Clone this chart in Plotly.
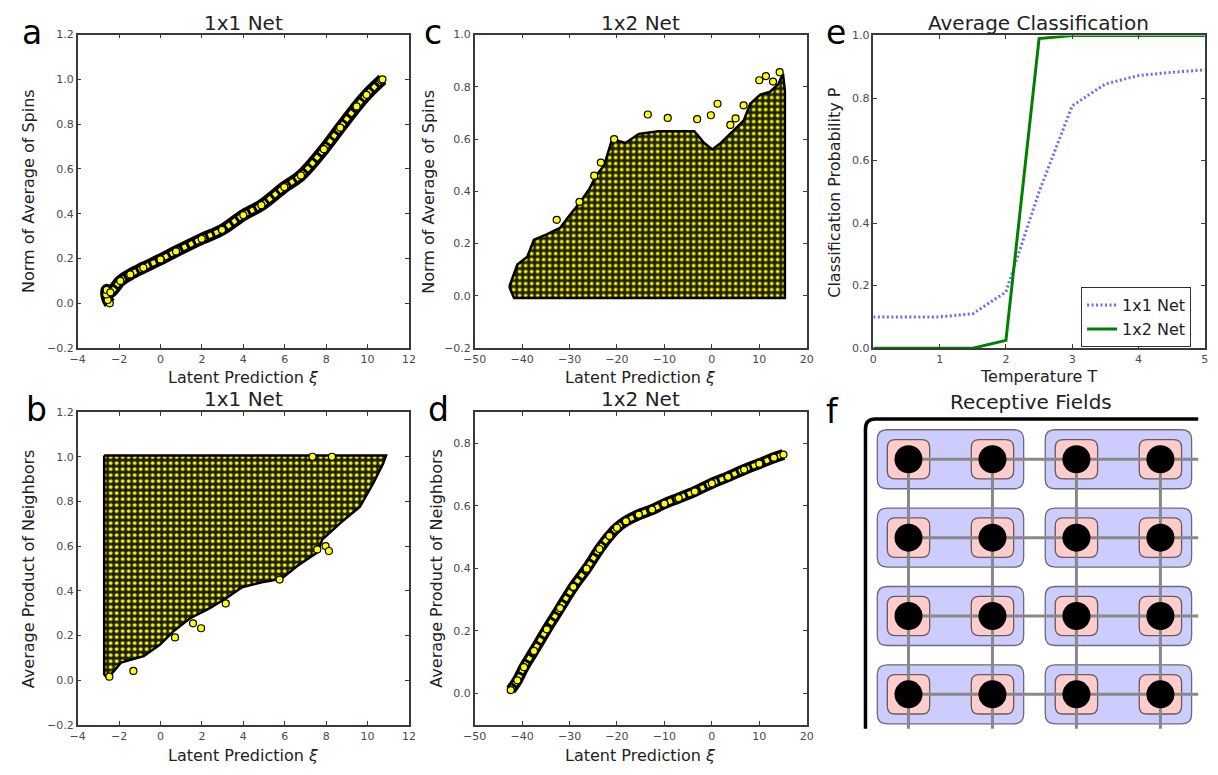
import plotly.graph_objects as go

W, H = 1218, 775
FONT = "DejaVu Sans"

# ---------------- data ----------------
# (a) 1x1 net: latent prediction vs norm of average spin (narrow band)
a_xi = [-2.45, -2.55, -2.62, -2.60, -2.42, -1.94, -1.46, -0.83, 0.00, 0.75, 1.99, 2.97,
        4.00, 4.87, 5.98, 6.78, 7.89, 8.68, 9.47, 9.95, 10.66, 10.72]
a_m = [0.000, 0.015, 0.040, 0.060, 0.049, 0.100, 0.129, 0.159, 0.196, 0.232, 0.288, 0.328,
       0.394, 0.438, 0.519, 0.571, 0.688, 0.784, 0.879, 0.931, 0.995, 1.000]

# (b) 1x1 net: latent prediction vs average neighbour product (cloud outline + stragglers)
b_edge_xi = [-2.72, -2.72, -2.55, -1.91, -0.81, -0.02, 0.62, 1.41, 2.36, 3.15, 3.94, 4.89,
             5.83, 6.62, 7.57, 7.81, 8.68, 9.63, 10.26, 10.74, 10.89, -2.72]
b_edge_nb = [1.005, 0.026, 0.007, 0.078, 0.107, 0.159, 0.218, 0.276, 0.321, 0.365, 0.416, 0.438,
             0.453, 0.512, 0.571, 0.629, 0.703, 0.776, 0.879, 0.968, 1.005, 1.005]
b_out_xi = [-2.47, -1.31, 0.70, 1.57, 1.96, 3.15, 5.75, 7.57, 7.97, 8.13, 7.34, 8.28]
b_out_nb = [0.015, 0.041, 0.191, 0.254, 0.232, 0.343, 0.450, 0.585, 0.600, 0.578, 1.000, 1.000]

# (c) 1x2 net: latent prediction vs norm of average spin
c_edge_xi = [-42.7, -41.0, -38.9, -37.5, -34.8, -32.0, -29.9, -27.9, -25.8, -24.4, -22.7, -21.0,
             -18.2, -15.4, -11.3, -7.8, -3.7, -1.6, 0.1, 1.9, 3.9, 6.7, 8.1, 10.2, 12.2, 14.0,
             15.0, 15.4, 15.4, -41.7, -42.7]
c_edge_m = [0.035, 0.120, 0.150, 0.215, 0.235, 0.260, 0.310, 0.355, 0.410, 0.460, 0.500, 0.600,
            0.585, 0.620, 0.630, 0.630, 0.630, 0.585, 0.560, 0.585, 0.620, 0.670, 0.735, 0.770,
            0.780, 0.810, 0.850, 0.785, -0.008, -0.008, 0.035]
c_out_xi = [-32.7, -27.9, -24.8, -23.4, -20.6, -13.5, -9.3, -3.1, -0.2, 1.2, 3.9, 5.0, 6.7,
            10.0, 11.4, 12.9, 14.3]
c_out_m = [0.291, 0.360, 0.460, 0.510, 0.600, 0.694, 0.681, 0.676, 0.691, 0.735, 0.654, 0.679,
           0.729, 0.825, 0.841, 0.820, 0.856]

# (d) 1x2 net: latent prediction vs average neighbour product
d_xi = [-42.4, -41.0, -39.6, -37.5, -34.8, -32.0, -29.2, -26.4, -23.7, -21.6, -20.0, -18.1,
        -15.4, -12.6, -10.0, -7.0, -3.6, 0.0, 3.4, 6.8, 10.0, 13.1, 15.1]
d_nb = [0.011, 0.042, 0.084, 0.136, 0.205, 0.273, 0.341, 0.399, 0.462, 0.504, 0.530, 0.551,
        0.572, 0.588, 0.607, 0.625, 0.646, 0.672, 0.693, 0.716, 0.735, 0.754, 0.764]

# (e) average classification vs temperature
temps = [0, 0.5, 1, 1.5, 2, 2.5, 3, 3.5, 4, 4.5, 5]
p_1x1 = [0.10, 0.10, 0.10, 0.11, 0.18, 0.50, 0.775, 0.845, 0.872, 0.882, 0.89]
p_1x2 = [0.0, 0.0, 0.0, 0.0, 0.025, 0.99, 1.0, 1.0, 1.0, 1.0, 1.0]

# (f) receptive fields: 4x4 lattice of spins, grouped into 1x2 fields
lattice_cols = [0, 1, 2, 3]
lattice_rows = [0, 1, 2, 3]
field_cols = [(0, 1), (2, 3)]

# ---------------- helpers ----------------
def dx(p0, p1):
    return [p0 / W, p1 / W]


def dy(top, bottom):
    return [1 - bottom / H, 1 - top / H]


YELLOW = "#ffff00"
AX = "#3a3a3a"
TICKC = "#4a4a4a"

fig = go.Figure()


def axis_style(rng, dtick, fmt=None):
    d = dict(range=rng, dtick=dtick, tick0=0, ticks="inside", ticklen=4, tickwidth=1,
             tickcolor=AX, showline=True, linecolor=AX, linewidth=1.5, mirror="ticks",
             showgrid=False, zeroline=False,
             tickfont=dict(family=FONT, size=11, color=TICKC))
    if fmt:
        d["tickformat"] = fmt
    return d


panels = {
    1: (dx(66.7, 403.3), dy(29, 348), [-4, 12], 2, [-0.2, 1.2], 0.2),
    2: (dx(470, 807.3), dy(29, 348), [-50, 20], 10, [-0.2, 1.0], 0.2),
    3: (dx(875, 1211.7), dy(30, 348), [0, 5], 1, [0, 1.0], 0.2),
    4: (dx(66.7, 403.3), dy(413, 731), [-4, 12], 2, [-0.2, 1.2], 0.2),
    5: (dx(470, 807.3), dy(413, 731), [-50, 20], 10, [-0.1, 0.9], 0.2),
}
layout_axes = {}
for i, (xd, yd, xr, xdt, yr, ydt) in panels.items():
    xs = "xaxis" if i == 1 else f"xaxis{i}"
    ys = "yaxis" if i == 1 else f"yaxis{i}"
    xa = axis_style(xr, xdt)
    xa.update(domain=xd, anchor="y" if i == 1 else f"y{i}")
    ya = axis_style(yr, ydt, ".1f")
    ya.update(domain=yd, anchor="x" if i == 1 else f"x{i}")
    layout_axes[xs] = xa
    layout_axes[ys] = ya

# diagram axes (one unit = one lattice spacing)
SX, SY = 85.3, 79.7  # pixels per lattice step
ORX, ORY = 910.7, 461  # first spin position on the page
layout_axes["xaxis6"] = dict(domain=dx(860, 1215), anchor="y6", visible=False,
                             range=[(860 - ORX) / SX, (1215 - ORX) / SX])
layout_axes["yaxis6"] = dict(domain=dy(395, 745), anchor="x6", visible=False,
                             range=[(745 - ORY) / SY, (395 - ORY) / SY])


def band(xs, ys, xa, ya, width=12):
    fig.add_trace(go.Scatter(x=xs, y=ys, xaxis=xa, yaxis=ya, mode="lines",
                             line=dict(color="black", width=width, shape="spline"),
                             showlegend=False, hoverinfo="skip"))
    fig.add_trace(go.Scatter(x=xs, y=ys, xaxis=xa, yaxis=ya, mode="lines",
                             line=dict(color=YELLOW, width=4.5, dash="4px,3px", shape="spline"),
                             showlegend=False, hoverinfo="skip"))
    fig.add_trace(go.Scatter(x=xs, y=ys, xaxis=xa, yaxis=ya, mode="markers",
                             marker=dict(color=YELLOW, size=7, line=dict(color="black", width=1.2)),
                             showlegend=False))


def cloud(ex, ey, ox, oy, xa, ya):
    fig.add_trace(go.Scatter(x=ex, y=ey, xaxis=xa, yaxis=ya, mode="lines", fill="toself",
                             line=dict(color="black", width=2.5),
                             fillpattern=dict(shape=".", bgcolor="#1e1e00", fgcolor="#ffff00",
                                              size=6, solidity=0.3, fillmode="replace"),
                             showlegend=False, hoverinfo="skip"))
    fig.add_trace(go.Scatter(x=ox, y=oy, xaxis=xa, yaxis=ya, mode="markers",
                             marker=dict(color=YELLOW, size=7, line=dict(color="black", width=1.2)),
                             showlegend=False))


band(a_xi, a_m, "x", "y")
cloud(c_edge_xi, c_edge_m, c_out_xi, c_out_m, "x2", "y2")
cloud(b_edge_xi, b_edge_nb, b_out_xi, b_out_nb, "x4", "y4")
band(d_xi, d_nb, "x5", "y5", width=11)

fig.add_trace(go.Scatter(x=temps, y=p_1x1, xaxis="x3", yaxis="y3", mode="lines", name="1x1 Net",
                         line=dict(color="rgba(40,40,255,0.7)", width=3, dash="2px,2.5px")))
fig.add_trace(go.Scatter(x=temps, y=p_1x2, xaxis="x3", yaxis="y3", mode="lines", name="1x2 Net",
                         line=dict(color="#008000", width=3), cliponaxis=False))

# ---- receptive field diagram ----
shapes = []


def rrect(x0, x1, y0, y1, r_px):
    rx, ry = r_px / SX, r_px / SY
    return (f"M {x0 + rx},{y0} L {x1 - rx},{y0} Q {x1},{y0} {x1},{y0 + ry} "
            f"L {x1},{y1 - ry} Q {x1},{y1} {x1 - rx},{y1} L {x0 + rx},{y1} "
            f"Q {x0},{y1} {x0},{y1 - ry} L {x0},{y0 + ry} Q {x0},{y0} {x0 + rx},{y0} Z")


BPX, BPY = 31.7 / SX, 30 / SY  # field padding around its spins
PH_X, PH_Y = 21.5 / SX, 20 / SY  # half size of a spin's square
for (c0, c1) in field_cols:
    for r in lattice_rows:
        shapes.append(dict(type="path", xref="x6", yref="y6", layer="below",
                           path=rrect(c0 - BPX, c1 + BPX, r - BPY, r + BPY, 10),
                           fillcolor="#ccccff", line=dict(color="#6a6a7a", width=1.3)))
for c in lattice_cols:
    for r in lattice_rows:
        shapes.append(dict(type="path", xref="x6", yref="y6", layer="below",
                           path=rrect(c - PH_X, c + PH_X, r - PH_Y, r + PH_Y, 8),
                           fillcolor="#ffcccc", line=dict(color="#6a5a5a", width=1.3)))

# outer lattice frame (top-left corner)
FX, FY = (867 - ORX) / SX, (420 - ORY) / SY
END_X, END_Y = (1205 - ORX) / SX, (735 - ORY) / SY
frx, fry = 10 / SX, 10 / SY
shapes.append(dict(type="path", xref="x6", yref="y6", layer="above",
                   path=f"M {END_X},{FY} L {FX + frx},{FY} Q {FX},{FY} {FX},{FY + fry} L {FX},{END_Y}",
                   line=dict(color="black", width=3.5)))

# couplings between neighbouring spins
hx, hy, vx, vy = [], [], [], []
for r in lattice_rows:
    hx += [lattice_cols[0], END_X, None]
    hy += [r, r, None]
for c in lattice_cols:
    vx += [c, c, None]
    vy += [lattice_rows[0], END_Y, None]
fig.add_trace(go.Scatter(x=hx + vx, y=hy + vy, xaxis="x6", yaxis="y6", mode="lines",
                         line=dict(color="#888888", width=3), showlegend=False,
                         hoverinfo="skip", cliponaxis=False))
sx_, sy_ = [], []
for c in lattice_cols:
    for r in lattice_rows:
        sx_.append(c)
        sy_.append(r)
fig.add_trace(go.Scatter(x=sx_, y=sy_, xaxis="x6", yaxis="y6", mode="markers",
                         marker=dict(color="black", size=28, line=dict(width=0)),
                         showlegend=False, hoverinfo="skip"))

# ---- text ----
ann = []


def text(s, x, y, size, color="#222222", angle=0):
    ann.append(dict(text=s, x=x / W, y=1 - y / H, xref="paper", yref="paper",
                    xanchor="center", yanchor="middle", showarrow=False, textangle=angle,
                    font=dict(family=FONT, size=size, color=color)))


XL = "Latent Prediction <i>ξ</i>"
text("1x1 Net", 235, 17, 20)
text("1x2 Net", 638.6, 17, 20)
text("Average Classification", 1043, 17, 20)
text("1x1 Net", 235, 400, 20)
text("1x2 Net", 638.6, 400, 20)
text("Receptive Fields", 1035, 403, 20)

text(XL, 235, 378, 16)
text(XL, 638.6, 378, 16)
text("Temperature T", 1043, 377, 16)
text(XL, 235, 762, 16)
text(XL, 638.6, 762, 16)

text("Norm of Average of Spins", 17, 188.5, 16, angle=-90)
text("Norm of Average of Spins", 423, 188.5, 16, angle=-90)
text("Classification Probability P", 836, 189, 16, angle=-90)
text("Average Product of Neighbors", 17, 572, 16, angle=-90)
text("Average Product of Neighbors", 431, 572, 16, angle=-90)

for letter, x, y in [("a", 20, 27), ("c", 428, 27), ("e", 837, 27),
                     ("b", 25, 410), ("d", 433, 410), ("f", 834, 412)]:
    text(letter, x, y, 33, color="black")

fig.update_layout(
    width=W, height=H, margin=dict(l=0, r=0, t=0, b=0),
    paper_bgcolor="white", plot_bgcolor="white",
    font=dict(family=FONT),
    shapes=shapes, annotations=ann,
    legend=dict(x=1086 / W, y=1 - 286 / H, xanchor="left", yanchor="top",
                bordercolor="#333333", borderwidth=1, bgcolor="white",
                font=dict(family=FONT, size=16, color="#222222"),
                itemwidth=30, tracegroupgap=0),
    **layout_axes,
)

fig.write_html("out.html")
